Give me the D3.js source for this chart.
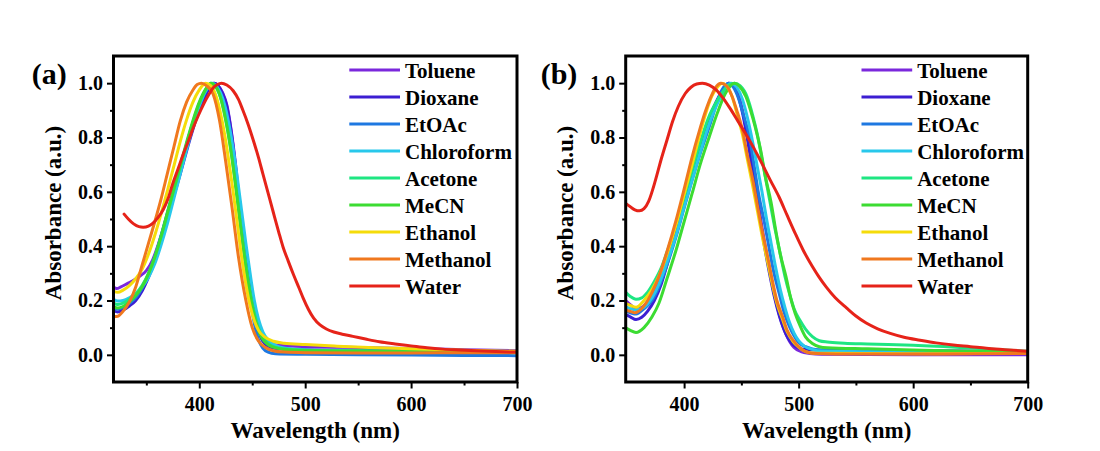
<!DOCTYPE html>
<html>
<head>
<meta charset="utf-8">
<script src="https://cdn.jsdelivr.net/npm/d3@7"></script>
<style>
  html, body { margin: 0; padding: 0; background: #fff; }
  svg { display: block; }
  text { font-family: "Liberation Serif", "Times New Roman", serif; font-weight: bold; fill: #000; }
</style>
</head>
<body>
<svg id="chart" width="1100" height="451"></svg>
<script>
// Solvents, in legend order
const solvents = ["Toluene", "Dioxane", "EtOAc", "Chloroform", "Acetone", "MeCN", "Ethanol", "Methanol", "Water"];
const xMajorTicks = [400, 500, 600, 700];
const yMajorTicks = [0.0, 0.2, 0.4, 0.6, 0.8, 1.0];
const yMinorTicks = [0.1, 0.3, 0.5, 0.7, 0.9];
const xMinorTicksA = [350, 450, 550, 650];
const xMinorTicksB = [450, 550, 650];

// Panel (a): normalized absorption spectra, [wavelength (nm), absorbance]
const tolueneA = [[319,0.25],[322,0.244],[326,0.25],[332,0.262],[338,0.274],[344,0.29],[350,0.31],[356,0.35],[362,0.415],[368,0.49],[374,0.575],[380,0.655],[386,0.74],[392,0.82],[398,0.89],[404,0.945],[409,0.982],[414,1.0],[418,0.99],[422,0.965],[426,0.92],[430,0.83],[434,0.71],[438,0.56],[442,0.42],[446,0.3],[450,0.205],[454,0.13],[458,0.08],[462,0.055],[468,0.04],[476,0.035],[490,0.032],[520,0.03],[560,0.026],[600,0.023],[650,0.019],[700,0.015]];
const dioxaneA = [[319,0.163],[323,0.158],[328,0.165],[334,0.18],[340,0.2],[346,0.235],[352,0.285],[358,0.345],[364,0.42],[370,0.5],[376,0.585],[382,0.665],[388,0.75],[394,0.83],[400,0.9],[406,0.955],[410,0.985],[414,1.0],[418,0.99],[422,0.962],[426,0.915],[430,0.825],[434,0.7],[438,0.55],[442,0.41],[446,0.29],[450,0.19],[454,0.115],[458,0.065],[462,0.04],[468,0.027],[476,0.022],[490,0.02],[550,0.017],[600,0.014],[650,0.012],[700,0.01]];
const etoacA = [[319,0.172],[323,0.168],[328,0.175],[334,0.19],[340,0.21],[346,0.245],[352,0.295],[358,0.36],[364,0.44],[370,0.525],[376,0.61],[382,0.69],[388,0.775],[394,0.855],[400,0.925],[406,0.975],[412,1.0],[416,0.99],[420,0.96],[424,0.905],[428,0.82],[432,0.71],[436,0.585],[440,0.46],[444,0.33],[448,0.21],[452,0.115],[456,0.055],[460,0.025],[465,0.01],[472,0.004],[500,0.002],[550,0.0],[600,-0.001],[650,-0.002],[700,-0.003]];
const chloroformA = [[319,0.205],[323,0.198],[328,0.2],[334,0.21],[340,0.225],[346,0.25],[352,0.285],[358,0.335],[364,0.405],[370,0.485],[376,0.575],[382,0.665],[388,0.755],[394,0.84],[400,0.915],[406,0.97],[412,1.0],[416,0.99],[420,0.965],[424,0.92],[428,0.85],[432,0.76],[436,0.65],[440,0.53],[444,0.41],[448,0.3],[452,0.2],[456,0.13],[460,0.085],[465,0.055],[472,0.035],[480,0.025],[500,0.018],[550,0.015],[600,0.012],[650,0.01],[700,0.008]];
const acetoneA = [[319,0.19],[323,0.185],[328,0.19],[334,0.205],[340,0.225],[346,0.255],[352,0.3],[358,0.36],[364,0.435],[370,0.52],[376,0.605],[382,0.69],[388,0.775],[394,0.855],[400,0.925],[406,0.975],[411,1.0],[415,0.99],[419,0.96],[423,0.905],[427,0.825],[431,0.725],[435,0.605],[439,0.48],[443,0.36],[447,0.255],[451,0.17],[455,0.11],[459,0.07],[464,0.045],[470,0.03],[480,0.022],[500,0.017],[550,0.014],[600,0.012],[650,0.01],[700,0.008]];
const mecnA = [[319,0.178],[323,0.172],[328,0.178],[334,0.195],[340,0.218],[346,0.25],[352,0.298],[358,0.36],[364,0.438],[370,0.525],[376,0.612],[382,0.697],[388,0.782],[394,0.862],[400,0.93],[406,0.978],[411,1.0],[415,0.99],[419,0.96],[423,0.9],[427,0.82],[431,0.72],[435,0.6],[439,0.47],[443,0.35],[447,0.245],[451,0.16],[455,0.1],[459,0.063],[464,0.04],[470,0.028],[480,0.02],[500,0.016],[550,0.014],[600,0.012],[650,0.01],[700,0.009]];
const ethanolA = [[319,0.235],[323,0.23],[328,0.238],[334,0.255],[340,0.28],[346,0.315],[352,0.37],[358,0.44],[364,0.52],[370,0.605],[376,0.695],[382,0.785],[388,0.865],[394,0.93],[400,0.975],[406,1.0],[411,0.99],[416,0.95],[420,0.89],[424,0.81],[428,0.71],[432,0.6],[436,0.48],[440,0.36],[444,0.26],[448,0.18],[452,0.125],[456,0.09],[462,0.065],[470,0.05],[480,0.043],[500,0.038],[530,0.032],[560,0.027],[600,0.022],[650,0.017],[700,0.013]];
const methanolA = [[319,0.14],[323,0.142],[328,0.16],[334,0.195],[340,0.25],[346,0.33],[352,0.41],[358,0.49],[364,0.575],[370,0.67],[376,0.765],[382,0.86],[388,0.93],[394,0.975],[398,0.995],[402,1.0],[407,0.99],[413,0.96],[419,0.865],[425,0.71],[431,0.54],[437,0.36],[444,0.2],[450,0.1],[456,0.05],[462,0.028],[470,0.015],[480,0.01],[500,0.008],[550,0.007],[600,0.007],[650,0.008],[700,0.008]];
const waterA = [[329,0.518],[333,0.5],[338,0.482],[343,0.472],[347,0.47],[352,0.474],[356,0.484],[361,0.505],[366,0.535],[371,0.58],[375,0.631],[380,0.685],[385,0.74],[390,0.79],[394,0.833],[399,0.88],[404,0.922],[409,0.958],[413,0.982],[417,0.995],[421,1.0],[426,0.993],[432,0.972],[437,0.94],[441,0.902],[446,0.85],[451,0.79],[456,0.725],[460,0.667],[465,0.595],[470,0.523],[475,0.452],[479,0.398],[484,0.345],[489,0.295],[494,0.248],[498,0.21],[503,0.168],[508,0.135],[514,0.11],[520,0.095],[527,0.084],[535,0.076],[545,0.068],[557,0.058],[570,0.048],[585,0.04],[600,0.033],[615,0.026],[630,0.021],[645,0.018],[662,0.015],[680,0.012],[700,0.01]];

// Panel (b): normalized absorption spectra, [wavelength (nm), absorbance]
const tolueneB = [[349,0.2],[353,0.185],[358,0.17],[363,0.175],[368,0.195],[374,0.235],[380,0.29],[386,0.37],[393,0.47],[400,0.57],[407,0.67],[414,0.77],[421,0.86],[428,0.93],[434,0.975],[440,1.0],[444,0.99],[448,0.95],[452,0.88],[456,0.79],[460,0.69],[464,0.58],[468,0.47],[472,0.37],[476,0.28],[480,0.2],[484,0.135],[488,0.085],[492,0.05],[496,0.027],[502,0.012],[510,0.005],[520,0.002],[600,0.0],[700,0.0]];
const dioxaneB = [[349,0.148],[353,0.14],[358,0.13],[363,0.138],[368,0.16],[374,0.2],[380,0.26],[386,0.345],[393,0.45],[400,0.555],[407,0.66],[414,0.76],[421,0.855],[428,0.93],[434,0.975],[439,1.0],[443,0.99],[447,0.955],[451,0.89],[455,0.8],[459,0.7],[463,0.59],[467,0.48],[471,0.38],[475,0.29],[479,0.21],[483,0.145],[487,0.095],[491,0.06],[495,0.038],[500,0.025],[508,0.019],[520,0.017],[600,0.015],[700,0.012]];
const etoacB = [[349,0.16],[353,0.155],[358,0.15],[365,0.17],[372,0.2],[378,0.25],[385,0.33],[393,0.435],[400,0.54],[407,0.643],[414,0.74],[422,0.84],[428,0.92],[433,0.975],[439,1.0],[443,0.985],[448,0.938],[452,0.88],[457,0.803],[461,0.7],[465,0.594],[470,0.49],[474,0.398],[478,0.31],[483,0.226],[487,0.16],[492,0.104],[496,0.07],[500,0.045],[506,0.03],[512,0.022],[520,0.018],[550,0.017],[600,0.015],[650,0.012],[700,0.01]];
const chloroformB = [[349,0.178],[353,0.17],[358,0.165],[365,0.175],[372,0.21],[378,0.26],[385,0.34],[393,0.44],[400,0.545],[407,0.645],[414,0.745],[421,0.84],[428,0.915],[434,0.965],[441,1.0],[446,0.985],[451,0.94],[456,0.86],[460,0.78],[464,0.69],[468,0.6],[472,0.5],[476,0.41],[480,0.32],[484,0.24],[488,0.175],[492,0.12],[496,0.08],[500,0.052],[505,0.032],[512,0.02],[520,0.014],[600,0.01],[700,0.007]];
const acetoneB = [[349,0.23],[353,0.215],[358,0.205],[363,0.21],[368,0.23],[374,0.27],[380,0.32],[386,0.39],[393,0.48],[400,0.58],[407,0.68],[414,0.78],[421,0.87],[428,0.93],[434,0.97],[439,0.993],[444,1.0],[449,0.99],[455,0.95],[460,0.88],[464,0.81],[468,0.72],[472,0.63],[476,0.54],[480,0.45],[484,0.37],[488,0.29],[492,0.225],[496,0.17],[501,0.128],[506,0.095],[512,0.067],[518,0.052],[525,0.047],[540,0.043],[560,0.04],[600,0.035],[650,0.025],[700,0.013]];
const mecnB = [[349,0.1],[353,0.09],[358,0.082],[365,0.1],[372,0.14],[378,0.19],[385,0.28],[393,0.386],[400,0.49],[407,0.594],[414,0.7],[422,0.803],[429,0.89],[436,0.962],[444,1.0],[448,0.99],[454,0.95],[458,0.9],[462,0.84],[467,0.75],[471,0.655],[476,0.56],[480,0.459],[484,0.37],[489,0.287],[493,0.21],[497,0.152],[502,0.1],[506,0.066],[512,0.042],[518,0.03],[525,0.026],[560,0.022],[600,0.018],[650,0.013],[700,0.01]];
const ethanolB = [[349,0.19],[353,0.182],[358,0.175],[365,0.2],[372,0.24],[378,0.29],[385,0.37],[393,0.48],[400,0.59],[407,0.7],[413,0.8],[419,0.89],[424,0.95],[429,0.985],[433,1.0],[437,0.99],[442,0.95],[446,0.89],[451,0.81],[455,0.725],[460,0.62],[464,0.53],[468,0.44],[473,0.34],[477,0.26],[481,0.19],[486,0.13],[490,0.085],[495,0.05],[500,0.028],[506,0.012],[515,0.006],[600,0.004],[700,0.006]];
const methanolB = [[349,0.165],[353,0.16],[357,0.155],[365,0.18],[372,0.23],[378,0.288],[385,0.38],[393,0.496],[400,0.61],[407,0.729],[413,0.82],[419,0.901],[424,0.955],[428,0.987],[432,1.0],[437,0.99],[442,0.95],[446,0.9],[451,0.827],[455,0.74],[460,0.643],[464,0.55],[468,0.459],[473,0.36],[477,0.275],[481,0.2],[486,0.14],[490,0.09],[495,0.055],[500,0.03],[506,0.012],[515,0.005],[550,0.003],[600,0.003],[700,0.005]];
const waterB = [[349,0.557],[353,0.545],[357,0.534],[361,0.53],[365,0.538],[369,0.565],[375,0.643],[380,0.72],[385,0.79],[390,0.86],[395,0.915],[401,0.962],[406,0.985],[411,0.997],[416,1.0],[422,0.993],[428,0.975],[434,0.945],[440,0.908],[447,0.86],[454,0.812],[461,0.76],[468,0.704],[475,0.645],[483,0.58],[490,0.513],[497,0.447],[504,0.385],[512,0.325],[518,0.285],[524,0.25],[532,0.21],[542,0.172],[550,0.143],[559,0.117],[569,0.096],[580,0.079],[592,0.065],[606,0.054],[620,0.044],[635,0.036],[650,0.03],[664,0.024],[680,0.019],[700,0.013]];

// Line colours, one per solvent
const palette = ["#7B28DC", "#3C1ED2", "#1E78E1", "#28C8EB", "#1EE682", "#3CDC32", "#F5DC0A", "#F0781E", "#E62319"];
const fontStack = '"Liberation Serif", "Times New Roman", serif';

const panels = [
  { label: "(a)", labelX: 31.7, x0: 113.5, x1: 517, domain: [319, 700], minorX: xMinorTicksA,
    series: [tolueneA, dioxaneA, etoacA, chloroformA, acetoneA, mecnA, ethanolA, methanolA, waterA] },
  { label: "(b)", labelX: 540.7, x0: 625.7, x1: 1027.7, domain: [349, 700], minorX: xMinorTicksB,
    series: [tolueneB, dioxaneB, etoacB, chloroformB, acetoneB, mecnB, ethanolB, methanolB, waterB] }
];

const svg = d3.select("#chart");
const plotTop = 56, plotBottom = 382;

function styleAxis(sel, fontSize) {
  sel.select(".domain").remove();
  sel.selectAll(".tick line").attr("stroke", "#000").attr("stroke-width", 2);
  sel.attr("font-size", fontSize).attr("font-family", fontStack).attr("font-weight", "bold");
  sel.selectAll(".tick text").attr("fill", "#000");
}

panels.forEach((p, idx) => {
  const x = d3.scaleLinear().domain(p.domain).range([p.x0, p.x1]);
  const y = d3.scaleLinear().domain([-0.1, 1.1]).range([plotBottom, plotTop]);
  const g = svg.append("g");

  const clipId = "plot-clip-" + idx;
  svg.append("clipPath").attr("id", clipId)
    .append("rect")
    .attr("x", p.x0).attr("y", plotTop)
    .attr("width", p.x1 - p.x0).attr("height", plotBottom - plotTop);

  // spectra
  const line = d3.line().x(d => x(d[0])).y(d => y(d[1])).curve(d3.curveMonotoneX);
  g.append("g").attr("clip-path", `url(#${clipId})`)
    .selectAll("path")
    .data(p.series)
    .join("path")
    .attr("d", line)
    .attr("fill", "none")
    .attr("stroke", (d, i) => palette[i])
    .attr("stroke-width", 3)
    .attr("stroke-linejoin", "round")
    .attr("stroke-linecap", "round");

  // x axis: minor then major ticks
  g.append("g").attr("transform", `translate(0,${plotBottom})`)
    .call(d3.axisBottom(x).tickValues(p.minorX).tickSize(3.5).tickFormat(""))
    .call(s => styleAxis(s, 20));
  g.append("g").attr("transform", `translate(0,${plotBottom})`)
    .call(d3.axisBottom(x).tickValues(xMajorTicks).tickSize(6.5).tickPadding(8).tickFormat(d3.format("d")))
    .call(s => styleAxis(s, 20));

  // y axis: minor then major ticks
  g.append("g").attr("transform", `translate(${p.x0},0)`)
    .call(d3.axisLeft(y).tickValues(yMinorTicks).tickSize(3.5).tickFormat(""))
    .call(s => styleAxis(s, 20));
  g.append("g").attr("transform", `translate(${p.x0},0)`)
    .call(d3.axisLeft(y).tickValues(yMajorTicks).tickSize(6.5).tickPadding(4).tickFormat(d3.format(".1f")))
    .call(s => styleAxis(s, 20));

  // frame
  g.append("rect")
    .attr("x", p.x0).attr("y", plotTop)
    .attr("width", p.x1 - p.x0).attr("height", plotBottom - plotTop)
    .attr("fill", "none").attr("stroke", "#000").attr("stroke-width", 3);

  // legend
  const legend = g.append("g");
  const rows = legend.selectAll("g").data(solvents).join("g")
    .attr("transform", (d, i) => `translate(${p.x0 + 235.8},${70 + i * 27})`);
  rows.append("line")
    .attr("x1", 0).attr("x2", 50.7).attr("y1", 0).attr("y2", 0)
    .attr("stroke", (d, i) => palette[i]).attr("stroke-width", 3.2);
  rows.append("text")
    .attr("x", 55.7).attr("y", 0).attr("dy", "0.36em")
    .attr("font-size", 21)
    .text(d => d);

  // axis titles
  g.append("text")
    .attr("x", (p.x0 + p.x1) / 2).attr("y", 438)
    .attr("text-anchor", "middle").attr("font-size", 23)
    .text("Wavelength (nm)");
  g.append("text")
    .attr("transform", `translate(${p.x0 - 53},213) rotate(-90)`)
    .attr("text-anchor", "middle").attr("font-size", 23)
    .text("Absorbance (a.u.)");

  // panel tag
  g.append("text")
    .attr("x", p.labelX).attr("y", 83.5)
    .attr("font-size", 30)
    .text(p.label);
});
</script>
</body>
</html>
